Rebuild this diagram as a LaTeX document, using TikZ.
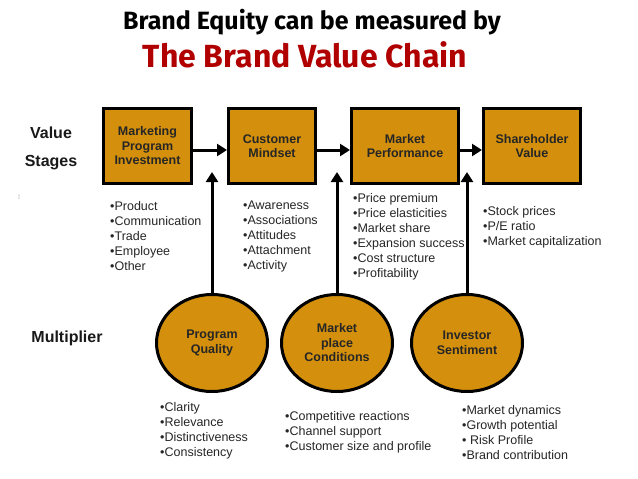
\documentclass[tikz,border=0pt]{standalone}
\usepackage{fontspec}
\setmainfont{Liberation Sans}
\newfontfamily\titlefont{Fira Sans}
\usetikzlibrary{arrows.meta,positioning,shapes.geometric}
\definecolor{chaingold}{HTML}{D4900C}
\definecolor{titlered}{HTML}{B00000}
\definecolor{chaintext}{HTML}{262626}
\tikzset{
every picture/.style={line cap=butt,line join=miter},
stage box/.style={
  draw=black,
  line width=3pt,
  fill=chaingold,
  minimum height=75pt,
  align=center,
  inner sep=2pt,
  text=chaintext,
  font=\fontsize{12.5}{14.5}\selectfont\bfseries
},
mult node/.style={
  ellipse,
  draw=black,
  line width=3pt,
  fill=chaingold,
  minimum width=111pt,
  minimum height=97pt,
  align=center,
  inner sep=0pt,
  text=chaintext,
  font=\fontsize{12.5}{14.5}\selectfont\bfseries
},
chain arrow/.style={
  draw=black,
  line width=3pt,
  -{Triangle[length=10pt,width=12pt]}
},
bullet list/.style={
  anchor=north west,
  align=left,
  inner sep=0pt,
  text=black!85,
  font=\fontsize{12.5}{15}\selectfont
},
side label/.style={font=\fontsize{16}{19}\selectfont\bfseries, text=black!90, align=center}
}
\begin{document}
\begin{tikzpicture}[x=1pt,y=-1pt]
\useasboundingbox[fill=white] (0,0) rectangle (638,479);
% title
\node[font=\titlefont\fontsize{25}{29}\selectfont\bfseries] (title) at (312,22) {Brand Equity can be measured by};
\node[font=\titlefont\fontsize{32}{36}\selectfont\bfseries, text=titlered] (subtitle) at (305,55) {The Brand Value Chain};
% row labels
\node[side label] (value) at (51,133) {Value};
\node[side label] (stages) at (51,163) {Stages};
\node[side label] (multiplier) at (67,338) {Multiplier};
\node[font=\fontsize{5}{6}\selectfont, text=black!40] (mark) at (19,197) {]};
% value stages
\node[stage box,minimum width=88pt] (mpi) at (147.5,146) {Marketing\\Program\\Investment};
\node[stage box,minimum width=87pt] (cm) at (272,146) {Customer\\Mindset};
\node[stage box,minimum width=107pt] (mp) at (405,146) {Market\\Performance};
\node[stage box,minimum width=97pt] (sv) at (532,146) {Shareholder\\Value};
\draw[chain arrow] ([yshift=-4pt]mpi.east) -- ([yshift=-4pt]cm.west);
\draw[chain arrow] ([yshift=-4pt]cm.east) -- ([yshift=-4pt]mp.west);
\draw[chain arrow] ([yshift=-4pt]mp.east) -- ([yshift=-4pt]sv.west);
% multipliers
\node[mult node] (pq) at (212,343) {Program\\Quality};
\node[mult node] (mc) at (337,343) {Market\\place\\Conditions};
\node[mult node] (is) at (467,343) {Investor\\Sentiment};
\coordinate (pq tip) at (212,172);
\coordinate (mc tip) at (337,172);
\coordinate (is tip) at (467,172);
\draw[chain arrow] (pq.north) -- (pq tip);
\draw[chain arrow] (mc.north) -- (mc tip);
\draw[chain arrow] (is.north) -- (is tip);
% stage items
\node[bullet list] (mpi list) at (110,201) {•Product\\•Communication\\•Trade\\•Employee\\•Other};
\node[bullet list] (cm list) at (243,201) {•Awareness\\•Associations\\•Attitudes\\•Attachment\\•Activity};
\node[bullet list] (mp list) at (353,193) {•Price premium\\•Price elasticities\\•Market share\\•Expansion success\\•Cost structure\\•Profitability};
\node[bullet list] (sv list) at (483,206) {•Stock prices\\•P/E ratio\\•Market capitalization};
% multiplier items
\node[bullet list] (pq list) at (160,402) {•Clarity\\•Relevance\\•Distinctiveness\\•Consistency};
\node[bullet list] (mc list) at (285,411) {•Competitive reactions\\•Channel support\\•Customer size and profile};
\node[bullet list] (is list) at (462,405) {•Market dynamics\\•Growth potential\\• Risk Profile\\•Brand contribution};
\end{tikzpicture}
\end{document}
